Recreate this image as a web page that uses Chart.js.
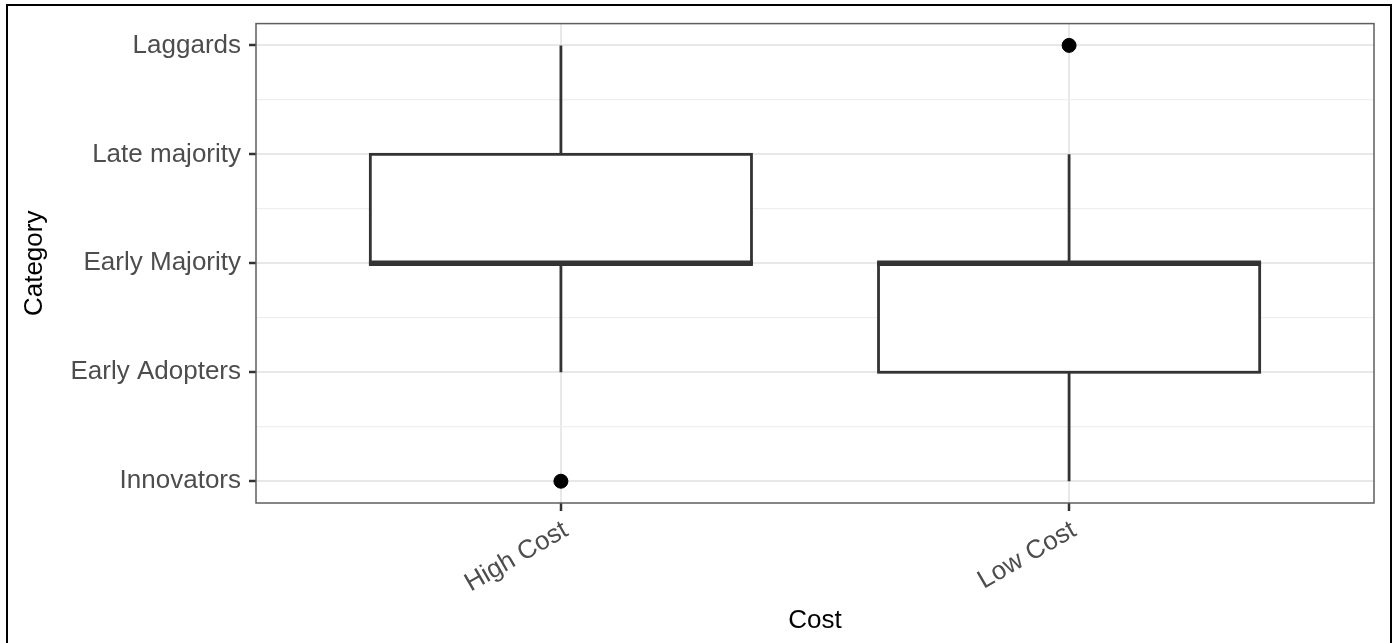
<!DOCTYPE html>
<html>
<head>
<meta charset="utf-8">
<script src="https://cdn.jsdelivr.net/npm/chart.js@4/dist/chart.umd.min.js"></script>
<style>
  html, body { margin: 0; padding: 0; background: #fff; }
  #wrap { position: relative; width: 1396px; height: 643px; overflow: hidden; }
  #frame {
    position: absolute; left: 6px; top: 4px; width: 1386px; height: 700px;
    border: 2px solid #000; box-sizing: border-box; pointer-events: none;
  }
</style>
</head>
<body>
<div id="wrap">
  <canvas id="chart"></canvas>
  <div id="frame"></div>
</div>
<script>
'use strict';

// categories on the y axis (1..5) and groups on the x axis (1..2)
const categories = ['Innovators', 'Early Adopters', 'Early Majority', 'Late majority', 'Laggards'];
const groups = ['High Cost', 'Low Cost'];

// box statistics per group
const lowerWhisker = [2, 1];
const q1 = [3, 2];
const median = [3, 3];
const q3 = [4, 3];
const upperWhisker = [5, 4];
const outliers = [[1], [5]];

const BOX_HALF = 0.375;
const INK = '#333333';

const outlierPoints = [];
outliers.forEach((vals, i) => vals.forEach(v => outlierPoints.push({ x: i + 1, y: v })));

// boxes + whiskers drawn through the chart's scales
const boxPlugin = {
    id: 'boxes',
    beforeDatasetsDraw(chart) {
        const { ctx, scales: { x, y } } = chart;
        ctx.save();
        ctx.strokeStyle = INK;
        groups.forEach((g, i) => {
            const pos = i + 1;
            const cx = x.getPixelForValue(pos);
            const left = x.getPixelForValue(pos - BOX_HALF);
            const right = x.getPixelForValue(pos + BOX_HALF);
            const yQ1 = y.getPixelForValue(q1[i]);
            const yQ3 = y.getPixelForValue(q3[i]);

            // whiskers
            ctx.lineWidth = 2.8;
            ctx.beginPath();
            ctx.moveTo(cx, y.getPixelForValue(lowerWhisker[i]));
            ctx.lineTo(cx, yQ1);
            ctx.moveTo(cx, yQ3);
            ctx.lineTo(cx, y.getPixelForValue(upperWhisker[i]));
            ctx.stroke();

            // box
            ctx.fillStyle = '#ffffff';
            ctx.fillRect(left, yQ3, right - left, yQ1 - yQ3);
            ctx.strokeRect(left, yQ3, right - left, yQ1 - yQ3);

            // median
            ctx.lineWidth = 5.5;
            const ym = y.getPixelForValue(median[i]);
            ctx.beginPath();
            ctx.moveTo(left - 1.4, ym);
            ctx.lineTo(right + 1.4, ym);
            ctx.stroke();
        });
        ctx.restore();
    },
    afterDatasetsDraw(chart) {
        const { ctx, chartArea: a } = chart;
        ctx.save();
        ctx.strokeStyle = '#5e5e5e';
        ctx.lineWidth = 1.5;
        ctx.strokeRect(a.left, a.top, a.right - a.left, a.bottom - a.top);
        ctx.restore();
    }
};

const tickFont = { family: '"Liberation Sans", Arial, sans-serif', size: 26 };
const titleFont = { family: '"Liberation Sans", Arial, sans-serif', size: 26 };

new Chart(document.getElementById('chart'), {
    type: 'scatter',
    data: {
        datasets: [{
            data: outlierPoints,
            backgroundColor: '#000',
            borderColor: '#000',
            pointRadius: 7,
            pointHoverRadius: 7
        }]
    },
    plugins: [boxPlugin],
    options: {
        responsive: true,
        maintainAspectRatio: false,
        animation: false,
        events: [],
        layout: { padding: { top: 22, right: 22, left: 0, bottom: 0 } },
        plugins: { legend: { display: false }, tooltip: { enabled: false } },
        scales: {
            x: {
                type: 'linear',
                min: 0.4,
                max: 2.6,
                afterBuildTicks: s => { s.ticks = groups.map((g, i) => ({ value: i + 1 })); },
                afterFit: s => { s.height = 140; },
                border: { display: false },
                grid: {
                    color: '#e8e8e8',
                    lineWidth: 2,
                    tickColor: INK,
                    tickWidth: 2.5,
                    tickLength: 8
                },
                ticks: {
                    autoSkip: false,
                    minRotation: 30,
                    maxRotation: 30,
                    padding: 4,
                    labelOffset: 5,
                    color: '#4d4d4d',
                    font: tickFont,
                    callback: v => groups[v - 1] ?? ''
                },
                title: { display: true, text: 'Cost', color: '#000', font: titleFont, padding: { bottom: 7 } }
            },
            y: {
                type: 'linear',
                min: 0.8,
                max: 5.2,
                afterBuildTicks: s => {
                    const t = [];
                    for (let v = 1; v <= 5; v += 0.5) t.push({ value: v });
                    s.ticks = t;
                },
                afterFit: s => { s.width = 256; },
                border: { display: false },
                grid: {
                    color: c => (c.tick && c.tick.value % 1 === 0) ? '#e8e8e8' : '#efefef',
                    lineWidth: c => (c.tick && c.tick.value % 1 === 0) ? 2 : 1.2,
                    tickColor: c => (c.tick && c.tick.value % 1 === 0) ? INK : 'rgba(0,0,0,0)',
                    tickWidth: 2.5,
                    tickLength: 7
                },
                ticks: {
                    autoSkip: false,
                    padding: 8,
                    color: '#4d4d4d',
                    font: tickFont,
                    callback: v => Number.isInteger(v) ? categories[v - 1] : ''
                },
                title: { display: true, text: 'Category', color: '#000', font: titleFont, padding: { top: 19 } }
            }
        }
    }
});
</script>
</body>
</html>
